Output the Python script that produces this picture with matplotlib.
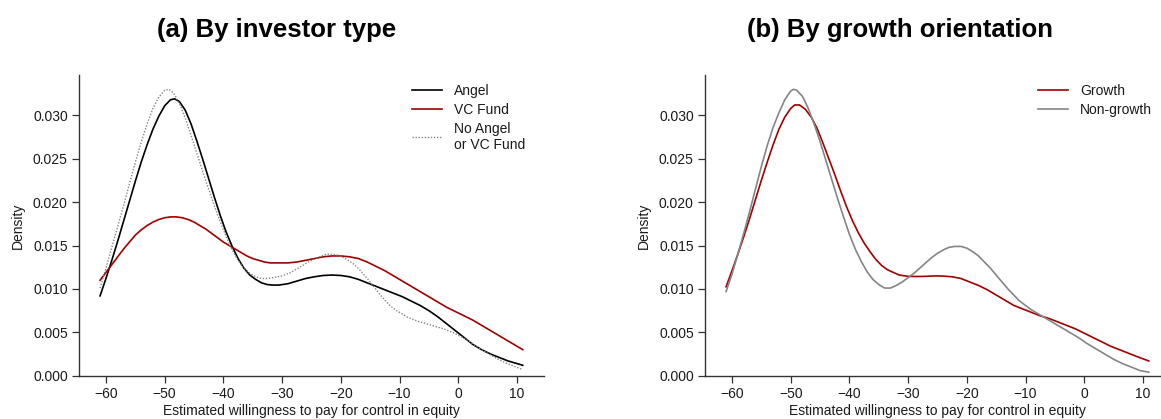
import matplotlib
matplotlib.use("Agg")
import matplotlib.pyplot as plt

plt.rcParams["font.family"] = ["Liberation Sans", "DejaVu Sans"]

# (a) by investor type -- densities
angel_x = [-61, -60, -59, -58, -57, -56, -55, -54, -53, -52, -51, -50, -49, -48.3,
           -47.5, -46.5, -45.5, -44.5, -43.5, -42.5, -41.5, -40.5, -39.5, -38.5,
           -37.5, -36.5, -35.5, -34.5, -33.5, -32.5, -31.5, -30.5, -29, -27.5, -26,
           -24.5, -23, -21.5, -20, -18.5, -17, -15.5, -14, -12.5, -11, -9.5, -8,
           -6.5, -5, -3.5, -2, -0.5, 1, 2.5, 4, 5.5, 7, 8.5, 10, 11]
angel_y = [0.0092, 0.0112, 0.0133, 0.0155, 0.0178, 0.0201, 0.0224, 0.0246, 0.0266,
           0.0284, 0.0299, 0.0311, 0.0318, 0.0319, 0.0316, 0.0306, 0.0290, 0.0270,
           0.0249, 0.0227, 0.0205, 0.0184, 0.0165, 0.0149, 0.0135, 0.0124, 0.0116,
           0.0111, 0.0107, 0.0105, 0.01044, 0.01045, 0.0106, 0.0109, 0.0112, 0.0114,
           0.01155, 0.0116, 0.01155, 0.0114, 0.0111, 0.0107, 0.0103, 0.0099, 0.0095,
           0.0091, 0.0086, 0.0081, 0.0075, 0.0068, 0.0060, 0.0052, 0.0044, 0.0036,
           0.0030, 0.0025, 0.0021, 0.0017, 0.0014, 0.0012]

vc_x = [-61, -60, -59, -58, -57, -56, -55, -54, -53, -52, -51, -50, -49, -48, -47,
        -46, -45, -44, -43, -42, -41, -40, -39, -38, -37, -36, -35, -34, -33, -32,
        -30.5, -29, -27.5, -26, -24.5, -23, -21.5, -20, -18.5, -17, -15.5, -14,
        -12.5, -11, -9.5, -8, -6.5, -5, -3.5, -2, -0.5, 1, 2.5, 4, 5.5, 7, 8.5, 10, 11]
vc_y = [0.0110, 0.0119, 0.0128, 0.0137, 0.0146, 0.0154, 0.0162, 0.0168, 0.0173,
        0.0177, 0.0180, 0.0182, 0.0183, 0.0183, 0.0182, 0.0180, 0.0177, 0.0173,
        0.0169, 0.0164, 0.0159, 0.0154, 0.0150, 0.0146, 0.0142, 0.0138, 0.0135,
        0.0133, 0.0131, 0.0130, 0.0130, 0.0130, 0.0131, 0.0133, 0.0135, 0.0137,
        0.0138, 0.0138, 0.0137, 0.0135, 0.0131, 0.0126, 0.0121, 0.0115, 0.0109,
        0.0103, 0.0097, 0.0091, 0.0085, 0.0079, 0.0074, 0.0069, 0.0064, 0.0058,
        0.0052, 0.0046, 0.0040, 0.0034, 0.0030]

none_x = [-61, -60, -59, -58, -57, -56, -55, -54, -53, -52, -51, -50, -49.3, -48.5,
          -47.5, -46.5, -45.5, -44.5, -43.5, -42.5, -41.5, -40.5, -39.5, -38.5,
          -37.5, -36.5, -35.5, -34.5, -33.5, -32.5, -31.5, -30, -28.5, -27, -25.5,
          -24, -22.5, -21.5, -20.5, -19.5, -18.5, -17.5, -16.5, -15.5, -14.5,
          -13.5, -12.5, -11.5, -10.5, -9.5, -8.5, -7, -5.5, -4, -2.5, -1, 0.5, 2,
          3.5, 5, 6.5, 8, 9.5, 11]
none_y = [0.0101, 0.0124, 0.0148, 0.0172, 0.0196, 0.0221, 0.0246, 0.0269, 0.0290,
          0.0308, 0.0321, 0.0329, 0.0330, 0.0326, 0.0314, 0.0297, 0.0277, 0.0256,
          0.0235, 0.0215, 0.0195, 0.0177, 0.0160, 0.0145, 0.0133, 0.0124, 0.0118,
          0.0114, 0.0112, 0.0112, 0.0113, 0.0115, 0.0119, 0.0125, 0.0131, 0.0136,
          0.0140, 0.0140, 0.0139, 0.0136, 0.0132, 0.0127, 0.0120, 0.0112, 0.0104,
          0.0095, 0.0087, 0.0080, 0.0075, 0.0071, 0.0067, 0.0063, 0.0060, 0.0057,
          0.0054, 0.0050, 0.0045, 0.0039, 0.0032, 0.0026, 0.0020, 0.0015, 0.0011,
          0.0007]

# (b) by growth orientation
growth_x = [-61, -60, -59, -58, -57, -56, -55, -54, -53, -52, -51, -50, -49.3, -48.5,
            -47.5, -46.5, -45.5, -44.5, -43.5, -42.5, -41.5, -40.5, -39.5, -38.5,
            -37.5, -36.5, -35.5, -34.5, -33.5, -32.5, -31.5, -30, -28.5, -27, -25.5,
            -24, -22.5, -21, -19.5, -18, -16.5, -15, -13.5, -12, -10.5, -9, -7.5,
            -6, -4.5, -3, -1.5, 0, 1.5, 3, 4.5, 6, 7.5, 9, 11]
growth_y = [0.01025, 0.0121, 0.0140, 0.0160, 0.0181, 0.0203, 0.0225, 0.0246, 0.0266,
            0.0284, 0.0298, 0.0308, 0.0312, 0.0312, 0.0307, 0.0298, 0.0285, 0.0268,
            0.0250, 0.0232, 0.0213, 0.0195, 0.0179, 0.0165, 0.0153, 0.0143, 0.0134,
            0.0127, 0.0122, 0.0119, 0.0116, 0.01145, 0.01143, 0.01145, 0.0115,
            0.01148, 0.0114, 0.0112, 0.0108, 0.0104, 0.0099, 0.0093, 0.0087,
            0.0081, 0.0077, 0.0073, 0.0069, 0.0066, 0.0062, 0.0058, 0.0054, 0.0049,
            0.0044, 0.0039, 0.0034, 0.0030, 0.0026, 0.0022, 0.0017]

nongrowth_x = [-61, -60, -59, -58, -57, -56, -55, -54, -53, -52, -51, -50, -49.5, -49,
               -48, -47, -46, -45, -44, -43, -42, -41, -40, -39, -38, -37, -36, -35,
               -34, -33, -32, -31, -30, -29, -28, -27, -26, -25, -24, -23, -22, -21,
               -20, -19, -18, -17, -16, -15, -14, -13, -12, -11, -10, -9, -8, -7,
               -5.5, -4, -2.5, -1, 0.5, 2, 3.5, 5, 6.5, 8, 9.5, 11]
nongrowth_y = [0.0097, 0.0117, 0.0140, 0.0164, 0.0189, 0.0215, 0.0241, 0.0265,
               0.0286, 0.0303, 0.0318, 0.0328, 0.0330, 0.0329, 0.0322, 0.0308,
               0.0290, 0.0270, 0.0248, 0.0226, 0.0204, 0.0183, 0.0163, 0.0146,
               0.0132, 0.0120, 0.0111, 0.0105, 0.0101, 0.0101, 0.0104, 0.0108,
               0.0113, 0.0118, 0.0124, 0.0130, 0.0136, 0.0141, 0.0145, 0.0148,
               0.0149, 0.0149, 0.0147, 0.0143, 0.0138, 0.0131, 0.0124, 0.0116,
               0.0108, 0.0100, 0.0093, 0.0086, 0.0081, 0.0076, 0.0072, 0.0068,
               0.0062, 0.0056, 0.0050, 0.0044, 0.0037, 0.0031, 0.0025, 0.0019,
               0.0014, 0.0010, 0.0006, 0.0004]

RED = "#a00000"
GREY = "#858585"
TXT = "#1a1a1a"

fig = plt.figure(figsize=(11.61, 4.19), dpi=100)
ax1 = fig.add_axes([0.068, 0.1033, 0.4005, 0.7177])
ax2 = fig.add_axes([0.6072, 0.1033, 0.4005, 0.7177])

ax1.plot(angel_x, angel_y, color="black", lw=1.2, label="Angel")
ax1.plot(vc_x, vc_y, color=RED, lw=1.2, label="VC Fund")
ax1.plot(none_x, none_y, color=GREY, lw=1.0, ls=(0, (1, 1.2)), label="No Angel\nor VC Fund")

ax2.plot(growth_x, growth_y, color=RED, lw=1.2, label="Growth")
ax2.plot(nongrowth_x, nongrowth_y, color=GREY, lw=1.2, label="Non-growth")

for ax in (ax1, ax2):
    ax.set_xlim(-64.6, 14.6)
    ax.set_ylim(0, 0.03465)
    ax.set_xticks([-60, -50, -40, -30, -20, -10, 0, 10])
    ax.set_yticks([0, 0.005, 0.01, 0.015, 0.02, 0.025, 0.03])
    ax.set_yticklabels(["0.000", "0.005", "0.010", "0.015", "0.020", "0.025", "0.030"])
    for s in ("top", "right"):
        ax.spines[s].set_visible(False)
    for s in ("left", "bottom"):
        ax.spines[s].set_color("#333333")
        ax.spines[s].set_linewidth(1.0)
    ax.tick_params(direction="out", length=5, width=0.9, color="#333333",
                   labelsize=10, labelcolor=TXT, pad=3)
    ax.set_xlabel("Estimated willingness to pay for control in equity",
                  fontsize=10, color=TXT, labelpad=2)
    ax.set_ylabel("Density", fontsize=10, color=TXT, labelpad=6)
    ax.legend(loc="upper left", bbox_to_anchor=(0.716, 0.97), frameon=False,
              fontsize=10, borderpad=0, borderaxespad=0, handlelength=2.2,
              handletextpad=0.85, labelspacing=0.35, labelcolor=TXT)

fig.text(0.238, 0.911, "(a) By investor type", ha="center", va="baseline",
         fontsize=18.5, fontweight="bold", color="black")
fig.text(0.775, 0.911, "(b) By growth orientation", ha="center", va="baseline",
         fontsize=18.5, fontweight="bold", color="black")

fig.savefig("out.png", dpi=100)
